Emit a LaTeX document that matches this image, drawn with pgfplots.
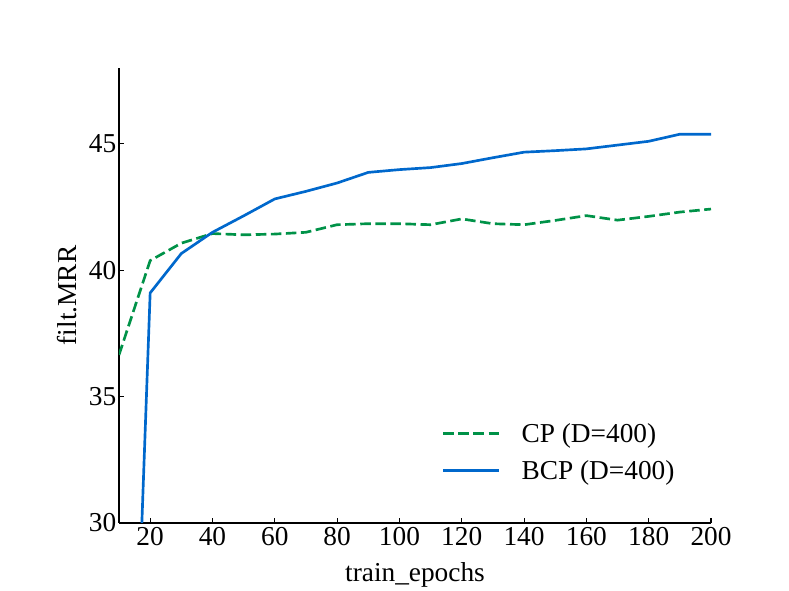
\documentclass[border=0pt]{standalone}
\usepackage{pgfplots}
\pgfplotsset{compat=1.18}
\usepackage{fontspec}
\setmainfont{Liberation Serif}
\definecolor{cpgreen}{RGB}{0,146,72}
\definecolor{bcpblue}{RGB}{0,104,204}
\newcommand{\bigfont}{\fontsize{20.5}{24}\selectfont}
\begin{document}
\begin{tikzpicture}
\begin{axis}[
  at={(0,0)}, anchor=south west,
  scale only axis,
  width=444pt, height=341.25pt,
  xmin=10, xmax=200, ymin=30, ymax=48,
  axis lines*=left,
  axis line style={line width=0.8pt, black, -},
  tick align=inside,
  major tick length=3.75pt,
  every tick/.style={line width=0.8pt, black},
  xtick={20,40,60,80,100,120,140,160,180,200},
  ytick={30,35,40,45},
  /pgf/number format/assume math mode=true,
  ticklabel style={font=\bigfont},
  yticklabel style={xshift=1.5pt},
  label style={font=\bigfont},
  xlabel={train\_epochs},
  xlabel style={yshift=-5.5pt},
  ylabel={filt.MRR},
  ylabel style={yshift=2pt},
  legend style={draw=none, fill=none, font=\bigfont,
    at={(rel axis cs:0.5456,0.2176)}, anchor=north west,
    inner sep=0pt, outer sep=0pt,
    row sep=13.5pt, column sep=15.75pt,
    nodes={inner sep=0pt, text depth=0pt}},
  legend cell align=left,
  legend image code/.code={\draw[#1] (0pt,0pt) -- (42pt,0pt);},
]
\addplot[color=cpgreen, line width=2pt, dash pattern=on 7.9pt off 3.4pt] coordinates {
(10,36.65) (20,40.38) (30,41.07) (40,41.45) (50,41.40) (60,41.43) (70,41.50)
(80,41.80) (90,41.84) (100,41.84) (110,41.80) (120,42.03) (130,41.84) (140,41.80)
(150,41.97) (160,42.16) (170,41.98) (180,42.13) (190,42.30) (200,42.42)
};
\addlegendentry{CP (D=400)}
\addplot[color=bcpblue, line width=2pt] coordinates {
(10,4.9) (20,39.1) (30,40.66) (40,41.5) (50,42.15) (60,42.82) (70,43.12)
(80,43.45) (90,43.87) (100,43.98) (110,44.06) (120,44.22) (130,44.45) (140,44.67)
(150,44.73) (160,44.80) (170,44.95) (180,45.10) (190,45.38) (200,45.38)
};
\addlegendentry{BCP (D=400)}
\end{axis}
\pgfresetboundingbox
\useasboundingbox (-89.25pt,-50.25pt) rectangle (502.5pt,392.25pt);
\end{tikzpicture}
\end{document}
